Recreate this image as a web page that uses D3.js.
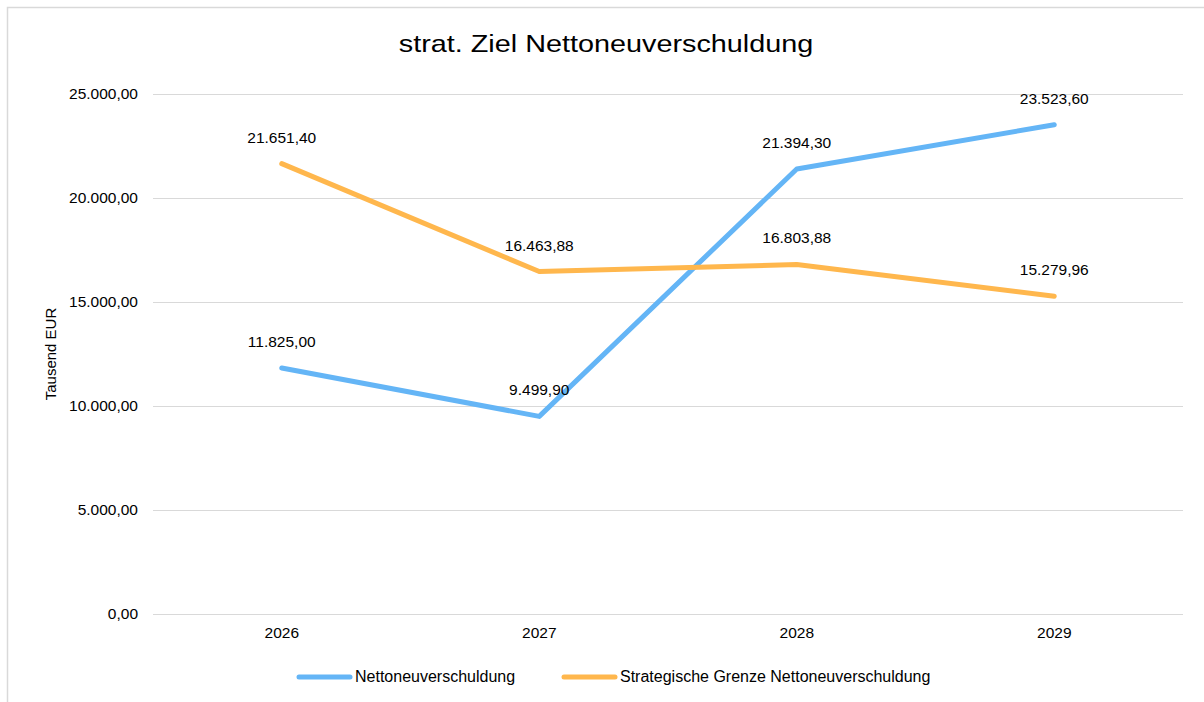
<!DOCTYPE html>
<html><head><meta charset="utf-8">
<script src="https://cdn.jsdelivr.net/npm/d3@7"></script>
<style>body{margin:0;background:#fff;} text{font-family:"Liberation Sans",Arial,sans-serif;fill:#000;}</style>
</head><body>
<svg id="c" width="1204" height="702"></svg>
<script>
const categories = ["2026","2027","2028","2029"];
const netto = [11825.00, 9499.90, 21394.30, 23523.60];
const grenze = [21651.40, 16463.88, 16803.88, 15279.96];
const yTicks = [0,5000,10000,15000,20000,25000];
const seriesNames = ["Nettoneuverschuldung","Strategische Grenze Nettoneuverschuldung"];
const colors = ["#64b5f6","#ffb74d"];

const svg = d3.select("#c");
// chart border
svg.append("rect").attr("x",7.5).attr("y",7.5).attr("width",1230).attr("height",720)
  .attr("fill","none").attr("stroke","#d9d9d9").attr("stroke-width",1.5);

const L=153, R=1183, T=94, B=614;
const x = d3.scaleBand().domain(categories).range([L,R]);
const y = d3.scaleLinear().domain([0,25000]).range([B,T]);
const cx = c => x(c)+x.bandwidth()/2;

const fmt = v => {
  const s = d3.format(",.2f")(v);
  return s.replace(/,/g,"#").replace(/\./g,",").replace(/#/g,".");
};

// gridlines
svg.append("g").selectAll("line").data(yTicks).join("line")
  .attr("x1",L).attr("x2",R).attr("y1",d=>y(d)+0.5).attr("y2",d=>y(d)+0.5)
  .attr("stroke","#d9d9d9").attr("stroke-width",1);

// y axis labels
const yAxis = d3.axisLeft(y).tickValues(yTicks).tickFormat(fmt).tickSize(0).tickPadding(15);
const gy = svg.append("g").attr("transform",`translate(${L},0)`).call(yAxis);
gy.select(".domain").remove();
gy.selectAll("text").attr("font-size",15.5).attr("font-family","Liberation Sans, Arial, sans-serif").attr("fill","#000");

// x axis labels
const xAxis = d3.axisBottom(x).tickSize(0).tickPadding(13);
const gx = svg.append("g").attr("transform",`translate(0,${B})`).call(xAxis);
gx.select(".domain").remove();
gx.selectAll("text").attr("font-size",15.5).attr("font-family","Liberation Sans, Arial, sans-serif").attr("fill","#000");

// title
svg.append("text").attr("transform","translate(606,52) scale(1.2,1)").attr("text-anchor","middle")
  .attr("font-size",24).text("strat. Ziel Nettoneuverschuldung");

// y axis title
svg.append("text").attr("transform",`translate(56,${(T+B)/2}) rotate(-90)`)
  .attr("text-anchor","middle").attr("font-size",15).text("Tausend EUR");

const line = d3.line().x((d,i)=>cx(categories[i])).y(d=>y(d));
[netto,grenze].forEach((data,si)=>{
  svg.append("path").datum(data).attr("d",line).attr("fill","none")
    .attr("stroke",colors[si]).attr("stroke-width",5).attr("stroke-linejoin","round").attr("stroke-linecap","round");
});
[netto,grenze].forEach((data,si)=>{
  svg.append("g").selectAll("text").data(data).join("text")
    .attr("x",(d,i)=>cx(categories[i]))
    .attr("y",d=>y(d)-21)
    .attr("text-anchor","middle").attr("font-size",15.5).text(d=>fmt(d));
});

// legend
const legendItems = [{x:297,tx:355},{x:562,tx:620}];
legendItems.forEach((it,i)=>{
  svg.append("line").attr("x1",it.x+2).attr("x2",it.x+53).attr("y1",677).attr("y2",677)
    .attr("stroke",colors[i]).attr("stroke-width",5).attr("stroke-linecap","round");
  svg.append("text").attr("x",it.tx).attr("y",682).attr("font-size",16).text(seriesNames[i]);
});
</script>
</body></html>
